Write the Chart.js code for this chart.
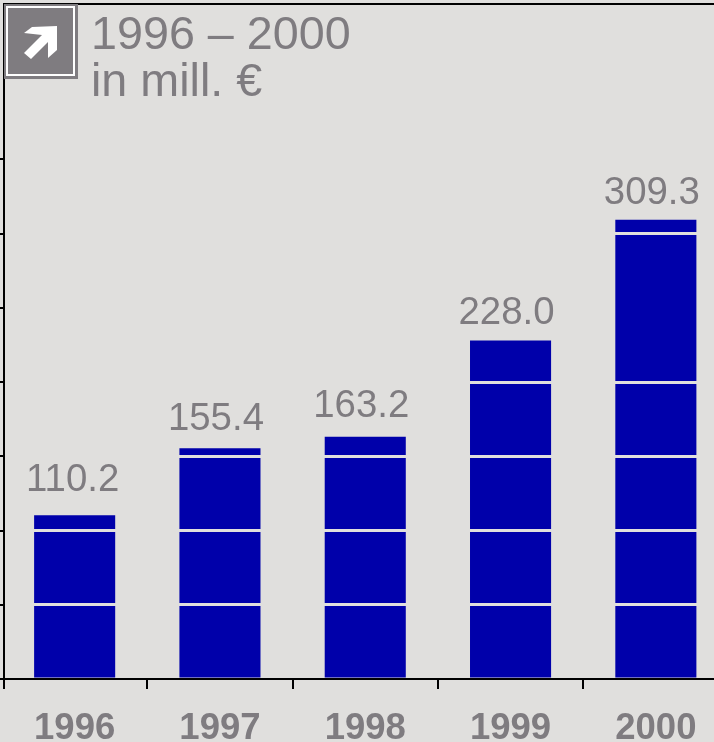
<!DOCTYPE html>
<html>
<head>
<meta charset="utf-8">
<script src="https://cdn.jsdelivr.net/npm/chart.js@4"></script>
<style>
  html, body { margin: 0; padding: 0; width: 714px; height: 742px; overflow: hidden; background: #e0dfdd; }
  #wrap { position: relative; width: 714px; height: 742px; overflow: hidden; }
  canvas { position: absolute; left: 0; top: 0; }
  #badge { position: absolute; left: 4px; top: 4px; width: 74px; height: 75px; background: #7f7c80; }
  #badge svg { position: absolute; left: 0; top: 0; }
  #title { position: absolute; left: 91px; top: 10px; color: #7f7c80; font: 46.7px/47px "Liberation Sans", Arial, sans-serif; white-space: nowrap; }
</style>
</head>
<body>
<div id="wrap">
  <canvas id="chart" width="729" height="742"></canvas>
  <div id="badge">
    <svg width="74" height="75" viewBox="0 0 74 75">
      <rect x="3" y="3" width="67" height="68" fill="none" stroke="#fff" stroke-width="2"/>
      <path d="M28 23 L53 22 L53 46 L44 54 L44 38 L27 55 L20 49 L38 31 L20 29 Z" fill="#fff"/>
    </svg>
  </div>
  <div id="title">1996 – 2000<br>in mill. €</div>
</div>
<script>
const years = ["1996", "1997", "1998", "1999", "2000"];
const revenue = [110.2, 155.4, 163.2, 228.0, 309.3];
const valueLabels = ["110.2", "155.4", "163.2", "228.0", "309.3"];
const yMax = 454.6;
const yStep = 50;
const lastTick = 350;
const noLineAt = 250; // the source has no white line here

const bg = "#e0dfdd";
const grey = "#7f7c80";
const labelGap = [24, 18, 20, 16, 16];
const axisX = 4;

// axis lines, y ticks, value labels
const barLabels = {
  id: "barLabels",
  afterDraw(chart) {
    const ctx = chart.ctx;
    const area = chart.chartArea;
    const ys = chart.scales.y;
    ctx.save();
    ctx.strokeStyle = "#000";
    ctx.lineWidth = 2;
    ctx.beginPath();
    ctx.moveTo(axisX - 1, area.top);
    ctx.lineTo(area.right, area.top);
    ctx.moveTo(axisX, area.top);
    ctx.lineTo(axisX, area.bottom + 10);
    ys.ticks.forEach(function (t) {
      const y = Math.round(ys.getPixelForValue(t.value));
      ctx.moveTo(0, y);
      ctx.lineTo(axisX, y);
    });
    ctx.stroke();
    ctx.fillStyle = grey;
    ctx.font = '38.4px "Liberation Sans", Arial, sans-serif';
    ctx.textAlign = "center";
    ctx.textBaseline = "alphabetic";
    chart.getDatasetMeta(0).data.forEach(function (bar, i) {
      ctx.fillText(valueLabels[i], bar.x - (i === 0 ? 2 : 4), bar.y - labelGap[i]);
    });
    ctx.restore();
  }
};

new Chart(document.getElementById("chart"), {
  type: "bar",
  data: {
    labels: years,
    datasets: [{
      data: revenue,
      backgroundColor: "#0000aa",
      categoryPercentage: 1,
      barPercentage: 0.558
    }]
  },
  options: {
    responsive: false,
    animation: false,
    layout: { padding: { top: 4, left: 0, right: 0.5, bottom: 0 } },
    plugins: { legend: { display: false }, tooltip: { enabled: false } },
    scales: {
      x: {
        afterFit(scale) { scale.height = 63; },
        border: { color: "#000", width: 2 },
        grid: {
          drawOnChartArea: false,
          tickLength: 10,
          lineWidth: 2,
          tickColor: function (c) { return c.index === 0 ? "rgba(0,0,0,0)" : "#000"; }
        },
        ticks: {
          padding: 18,
          maxRotation: 0,
          color: grey,
          font: { family: '"Liberation Sans", Arial, sans-serif', size: 36.5, weight: "bold" }
        }
      },
      y: {
        min: 0,
        max: yMax,
        afterFit(scale) { scale.width = 2; },
        afterBuildTicks(scale) {
          scale.ticks = scale.ticks.filter(function (t) { return t.value <= lastTick; });
        },
        border: { display: false },
        grid: {
          z: 1,
          drawTicks: false,
          lineWidth: 3,
          color: function (c) {
            if (!c.tick || c.tick.value === 0 || c.tick.value === noLineAt) return "rgba(0,0,0,0)";
            return bg;
          }
        },
        ticks: { stepSize: yStep, display: false }
      }
    }
  },
  plugins: [barLabels]
});
</script>
</body>
</html>
